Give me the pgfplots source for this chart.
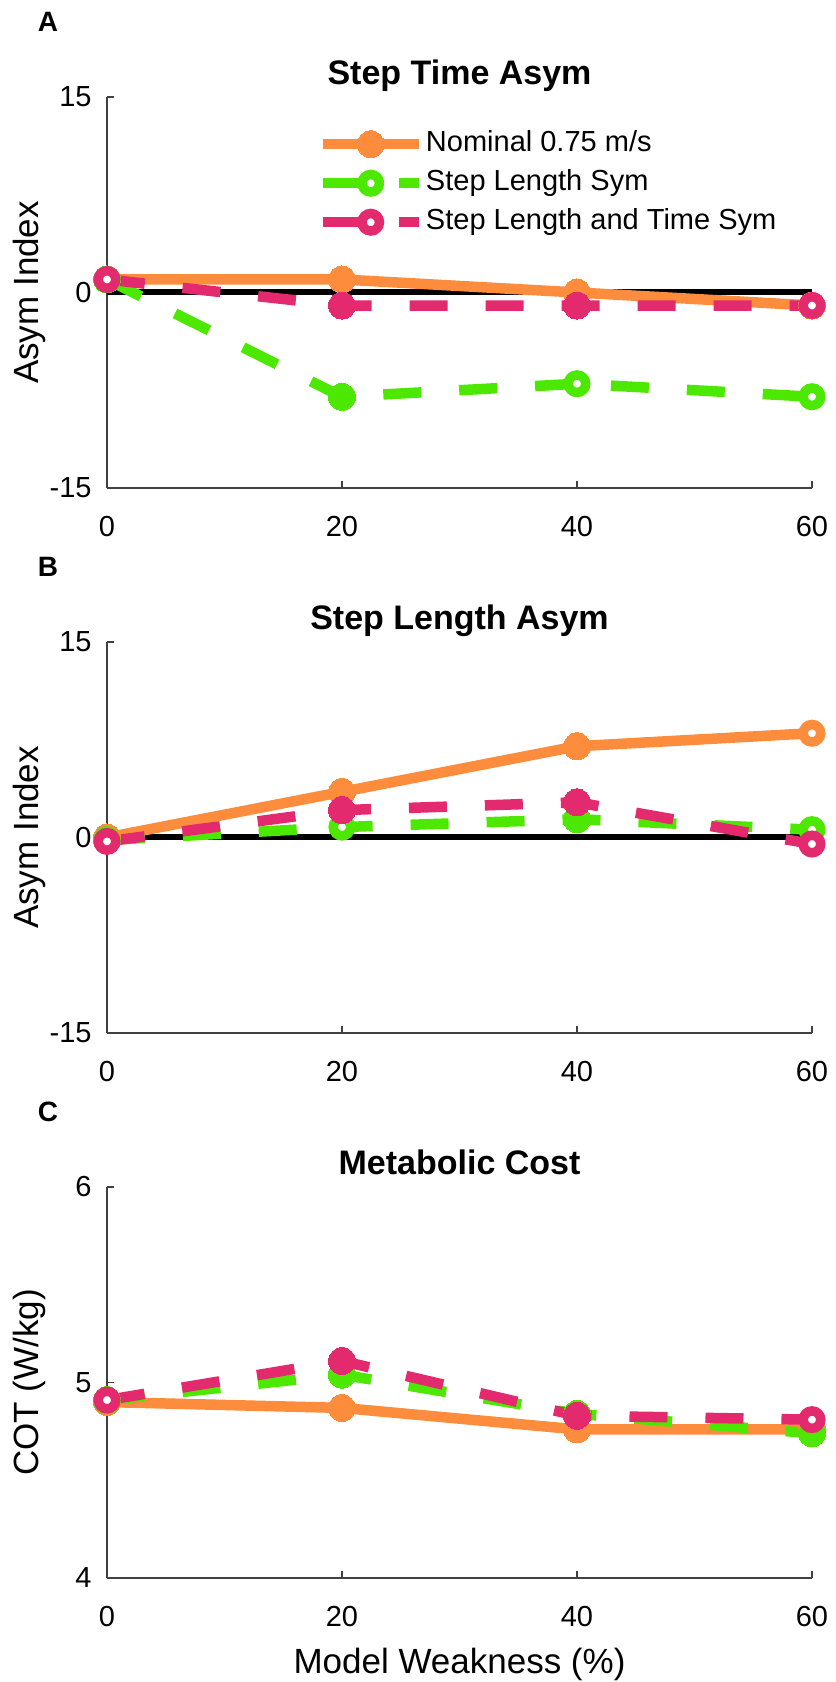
\documentclass[border=0pt]{standalone}
\usepackage{fontspec}
\setmainfont{Liberation Sans}
\usepackage{pgfplots}
\pgfplotsset{compat=1.18}

\definecolor{cNom}{RGB}{253,140,60}
\definecolor{cSL}{RGB}{77,232,0}
\definecolor{cSLT}{RGB}{227,42,110}
\definecolor{axgray}{RGB}{64,64,64}

\pgfplotsset{
  panel/.style={
    scale only axis, width=352.5bp, height=195.5bp,
    anchor=south west, clip=false,
    axis lines*=left,
    axis line style={axgray, line width=0.9bp},
    every tick/.style={axgray, line width=0.9bp},
    tick align=inside, major tick length=3.5bp,
    xmin=0, xmax=60, xtick={0,20,40,60},
    /pgf/number format/assume math mode=true,
    tick label style={font=\fontsize{14.5bp}{17bp}\selectfont, inner sep=0pt},
    yticklabel style={xshift=-7.5bp},
    xticklabel style={yshift=-14bp},
    every axis title/.style={at={(0.5,1)}, anchor=base, yshift=6bp,
      inner sep=0pt, font=\fontsize{17bp}{20bp}\selectfont\bfseries},
    every axis y label/.style={at={(0,0.5)}, xshift=-39bp, rotate=90,
      anchor=center, inner sep=0pt, font=\fontsize{17.5bp}{21bp}\selectfont},
    every axis x label/.style={at={(0.5,0)}, anchor=north, yshift=-35bp,
      inner sep=0pt, font=\fontsize{17.5bp}{21bp}\selectfont},
  },
  nom/.style={cNom, line width=5.25bp},
  sl/.style={cSL, line width=5.25bp, dash pattern=on 19bp off 19bp},
  slt/.style={cSLT, line width=5.25bp, dash pattern=on 19bp off 19bp},
  filled/.style={only marks, mark=*, mark size=6.75bp, mark options={solid, line width=0pt}, forget plot},
  hollow/.style={only marks, mark=*, mark size=4.375bp, mark options={solid, fill=white, line width=4.75bp}, forget plot},
  zero/.style={black, line width=3bp, no markers, forget plot},
}

\newcommand{\panellabel}[1]{\node[font=\fontsize{14bp}{17bp}\selectfont\bfseries, inner sep=0pt, xshift=-29.5bp, yshift=37.5bp] at (rel axis cs:0,1) {#1};}

\begin{document}
\begin{tikzpicture}
\useasboundingbox (0,0) rectangle (418bp,841bp);

% A: step time asymmetry
\begin{axis}[panel, at={(53.5bp,597bp)},
  ymin=-15, ymax=15, ytick={-15,0,15},
  title={Step Time Asym}, ylabel={Asym Index},
  legend image code/.code={\draw[mark repeat=2,mark phase=2] plot coordinates {(0bp,0bp)(24bp,0bp)(48bp,0bp)};},
  legend style={at={(rel axis cs:0.298,0.916)}, anchor=north west, draw=none, fill=none,
    inner sep=0pt, row sep=5.5bp, column sep=1bp,
    font=\fontsize{14.5bp}{17bp}\selectfont,
    nodes={inner sep=0pt, text height=10.5bp, text depth=3.5bp}},
  legend cell align=left]
\addlegendimage{nom, mark=*, mark size=6.75bp, mark options={solid, line width=0pt}}
\addlegendimage{sl, mark=*, mark size=4.375bp, mark options={solid, fill=white, line width=4.75bp}}
\addlegendimage{slt, mark=*, mark size=4.375bp, mark options={solid, fill=white, line width=4.75bp}}
\addplot[zero] coordinates {(0,0) (60,0)};
\addplot[nom, no markers, forget plot] coordinates {(0,1) (20,1) (40,0) (60,-1)};
\addplot[cNom, filled] coordinates {(0,1) (20,1) (40,0) (60,-1)};
\addplot[sl, no markers, forget plot] coordinates {(0,1) (20,-8) (40,-7) (60,-8)};
\addplot[cSL, filled] coordinates {(0,1) (20,-8)};
\addplot[cSL, hollow] coordinates {(40,-7) (60,-8)};
\addplot[slt, no markers, forget plot] coordinates {(0,1) (20,-1) (40,-1) (60,-1)};
\addplot[cSLT, filled] coordinates {(20,-1) (40,-1)};
\addplot[cSLT, hollow] coordinates {(0,1) (60,-1)};
\legend{Nominal 0.75 m/s, Step Length Sym, Step Length and Time Sym}
\panellabel{A}
\end{axis}

% B: step length asymmetry
\begin{axis}[panel, at={(53.5bp,324.5bp)},
  ymin=-15, ymax=15, ytick={-15,0,15},
  title={Step Length Asym}, ylabel={Asym Index}]
\addplot[zero] coordinates {(0,0) (60,0)};
\addplot[nom, no markers, forget plot] coordinates {(0,0) (20,3.5) (40,7.0) (60,8.0)};
\addplot[cNom, filled] coordinates {(0,0) (20,3.5) (40,7.0)};
\addplot[cNom, hollow] coordinates {(60,8.0)};
\addplot[sl, no markers, forget plot] coordinates {(0,-0.2) (20,0.8) (40,1.4) (60,0.6)};
\addplot[cSL, filled] coordinates {(0,-0.2) (40,1.4)};
\addplot[cSL, hollow] coordinates {(20,0.8) (60,0.6)};
\addplot[slt, no markers, forget plot] coordinates {(0,-0.3) (20,2.1) (40,2.7) (60,-0.5)};
\addplot[cSLT, filled] coordinates {(20,2.1) (40,2.7)};
\addplot[cSLT, hollow] coordinates {(0,-0.3) (60,-0.5)};
\panellabel{B}
\end{axis}

% C: metabolic cost
\begin{axis}[panel, at={(53.5bp,52bp)},
  ymin=4, ymax=6, ytick={4,5,6},
  title={Metabolic Cost}, ylabel={COT (W/kg)}, xlabel={Model Weakness (\%)}]
\addplot[nom, no markers, forget plot] coordinates {(0,4.90) (20,4.87) (40,4.76) (60,4.76)};
\addplot[cNom, filled] coordinates {(0,4.90) (20,4.87) (40,4.76) (60,4.76)};
\addplot[sl, no markers, forget plot] coordinates {(0,4.91) (20,5.04) (40,4.84) (60,4.74)};
\addplot[cSL, filled] coordinates {(0,4.91) (20,5.04) (40,4.84) (60,4.74)};
\addplot[slt, no markers, forget plot] coordinates {(0,4.91) (20,5.11) (40,4.83) (60,4.81)};
\addplot[cSLT, filled] coordinates {(20,5.11) (40,4.83)};
\addplot[cSLT, hollow] coordinates {(0,4.91) (60,4.81)};
\panellabel{C}
\end{axis}
\end{tikzpicture}
\end{document}
